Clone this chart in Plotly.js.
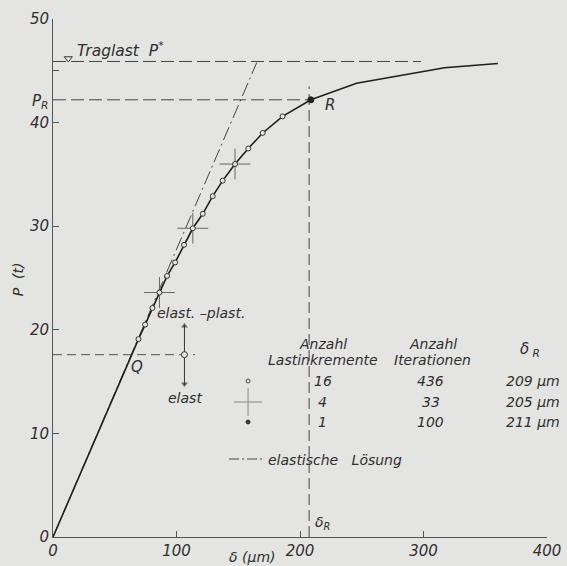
<!DOCTYPE html>
<html>
<head>
<meta charset="utf-8">
<script src="https://cdn.plot.ly/plotly-3.0.1.min.js"></script>
<style>
  html, body { margin: 0; padding: 0; background: #e4e4e2; }
  #chart { width: 567px; height: 566px; }
</style>
</head>
<body>
<div id="chart"></div>
<script>
// ---- data ----
// load-displacement curve (delta in µm, P in t)
const delta = [0, 63.3, 69.2, 74.6, 80.5, 86.2, 92.4, 98.9, 106.1, 113.2, 121.3, 129.3, 137.4, 147.4, 158.1, 169.8, 185.9, 208.8, 245.8, 317.1, 360.2];
const P     = [0, 17.6, 19.1, 20.5, 22.1, 23.6, 25.2, 26.5, 28.2, 29.8, 31.2, 32.9, 34.4, 36.0, 37.5, 39.0, 40.6, 42.2, 43.8, 45.3, 45.7];
// 16 load increments (open circles)
const delta16 = [69.2, 74.6, 80.5, 86.2, 92.4, 98.9, 106.1, 113.2, 121.3, 129.3, 137.4, 147.4, 158.1, 169.8, 185.9, 208.8];
const P16     = [19.1, 20.5, 22.1, 23.6, 25.2, 26.5, 28.2, 29.8, 31.2, 32.9, 34.4, 36.0, 37.5, 39.0, 40.6, 42.2];
// 4 load increments (crosses)
const delta4 = [86.2, 113.2, 147.4];
const P4     = [23.6, 29.8, 36.0];
// 1 load increment (dot)
const delta1 = [208.8];
const P1     = [42.2];
// elastic solution
const deltaEl = [0, 165];
const PEl     = [0, 45.8];
// characteristic values
const PStar = 45.9;   // Traglast
const PR = 42.2;
const deltaR = 207.4;
const PQ = 17.6;
// table
const tableInc = ['16', '4', '1'];
const tableIter = ['436', '33', '100'];
const tableDeltaR = ['209 μm', '205 μm', '211 μm'];
// axis ticks
const xTicks = [0, 100, 200, 300, 400];
const yTicks = [0, 10, 20, 30, 40, 50];
const yMinorTicks = [45];

// ---- layout helpers ----
const W = 567, H = 566;
const Lpx = 52.7, Rpx = 547.3, Tpx = 19, Bpx = 537;
const XR = [0, 400], YR = [0, 50];
const dx = px => XR[0] + (px - Lpx) / (Rpx - Lpx) * (XR[1] - XR[0]);
const dy = py => YR[0] + (Bpx - py) / (Bpx - Tpx) * (YR[1] - YR[0]);
const ax = px => (px - Lpx) / (Rpx - Lpx);
const ay = py => (Bpx - py) / (Bpx - Tpx);

const ink = '#2f2f2f';
const bg = '#e4e4e2';
const fontBase = {family: 'DejaVu Sans', size: 14, color: ink, style: 'italic'};
const fontTick = Object.assign({}, fontBase, {size: 15});

const traces = [
  // dashed reference lines
  {x: [0, 298], y: [PStar, PStar], mode: 'lines', line: {color: '#444', width: 1, dash: '13px,5px'}, hoverinfo: 'skip'},
  {x: [0, delta1[0]], y: [PR, PR], mode: 'lines', line: {color: '#444', width: 1, dash: '13px,5px'}, hoverinfo: 'skip'},
  {x: [deltaR, deltaR], y: [0, 43.5], mode: 'lines', line: {color: '#444', width: 1, dash: '11px,5px'}, hoverinfo: 'skip'},
  {x: [0, 115], y: [PQ, PQ], mode: 'lines', line: {color: '#555', width: 1, dash: '9px,5px'}, hoverinfo: 'skip'},
  // elastic solution
  {x: deltaEl, y: PEl, mode: 'lines', line: {color: '#444', width: 1, dash: '14px,4px,2px,4px'}, hoverinfo: 'skip'},
  // main curve
  {x: delta, y: P, mode: 'lines', line: {color: '#1e1e1e', width: 1.6}, hoverinfo: 'skip'},
  // 4 increments
  {x: delta4, y: P4, mode: 'markers', cliponaxis: false,
   marker: {symbol: 'cross-thin-open', size: 22, color: '#666', line: {color: '#666', width: 1}}, hoverinfo: 'skip'},
  // 16 increments
  {x: delta16, y: P16, mode: 'markers', cliponaxis: false,
   marker: {symbol: 'circle', size: 5, color: bg, line: {color: '#333', width: 1}}, hoverinfo: 'skip'},
  // 1 increment
  {x: delta1, y: P1, mode: 'markers', cliponaxis: false,
   marker: {symbol: 'circle', size: 6, color: '#222', line: {color: '#222', width: 1}}, hoverinfo: 'skip'},
  // Traglast marker
  {x: [dx(68)], y: [dy(58.5)], mode: 'markers', cliponaxis: false,
   marker: {symbol: 'triangle-down-open', size: 7, color: '#333', line: {color: '#333', width: 1}}, hoverinfo: 'skip'},
  // double arrow elast / elast.-plast.
  {x: [dx(184.3), dx(184.3)], y: [dy(325), dy(385)], mode: 'lines', cliponaxis: false,
   line: {color: '#333', width: 1}, hoverinfo: 'skip'},
  {x: [dx(184.3), dx(184.3)], y: [dy(326), dy(384)], mode: 'markers', cliponaxis: false,
   marker: {symbol: ['triangle-up', 'triangle-down'], size: [6, 6], color: '#333', line: {width: 0}}, hoverinfo: 'skip'},
  // Q-level marker on arrow
  {x: [dx(184.3)], y: [PQ], mode: 'markers', cliponaxis: false,
   marker: {symbol: 'circle', size: 6, color: bg, line: {color: '#333', width: 1}}, hoverinfo: 'skip'},
  // table symbols
  {x: [dx(248)], y: [dy(381)], mode: 'markers', cliponaxis: false,
   marker: {symbol: 'circle', size: 4, color: bg, line: {color: '#444', width: 1}}, hoverinfo: 'skip'},
  {x: [dx(248)], y: [dy(402)], mode: 'markers', cliponaxis: false,
   marker: {symbol: 'cross-thin-open', size: 20, color: '#888', line: {color: '#888', width: 1}}, hoverinfo: 'skip'},
  {x: [dx(248)], y: [dy(422)], mode: 'markers', cliponaxis: false,
   marker: {symbol: 'circle', size: 4, color: '#333', line: {color: '#333', width: 1}}, hoverinfo: 'skip'},
  // legend dash-dot line
  {x: [dx(229), dx(265)], y: [dy(459), dy(459)], mode: 'lines', cliponaxis: false,
   line: {color: '#444', width: 1, dash: '10px,3px,2px,3px'}, hoverinfo: 'skip'}
];

function txt(text, px, py, xanchor, extra) {
  return Object.assign({text: text, xref: 'paper', yref: 'paper', x: ax(px), y: ay(py),
    xanchor: xanchor || 'center', yanchor: 'middle', showarrow: false, font: fontBase}, extra || {});
}

const annotations = [
  txt('Traglast  P<sup>*</sup>', 75, 49, 'left', {font: Object.assign({}, fontBase, {size: 15.5})}),
  txt('P<sub>R</sub>', 50, 101, 'right', {font: Object.assign({}, fontBase, {size: 15})}),
  txt('R', 330, 105, 'center', {font: Object.assign({}, fontBase, {size: 15})}),
  txt('Q', 137, 367, 'center', {font: Object.assign({}, fontBase, {size: 15})}),
  txt('elast. –plast.', 155, 313, 'left'),
  txt('elast', 166, 398, 'left'),
  txt('δ<sub>R</sub>', 313, 523, 'left'),
  txt('P  (t)', 18, 279, 'center', {textangle: -90}),
  txt('δ (μm)', 252, 557, 'center'),
  // table header
  txt('Anzahl', 323, 344, 'center'),
  txt('Lastinkremente', 323, 360, 'center'),
  txt('Anzahl', 433, 344, 'center'),
  txt('Iterationen', 433, 360, 'center'),
  txt('δ<sub> R</sub>', 530, 350, 'center', {font: Object.assign({}, fontBase, {size: 15})}),
  txt('elastische   Lösung', 266, 460, 'left')
];
const rowsY = [381, 402, 422];
for (let i = 0; i < tableInc.length; i++) {
  annotations.push(txt(tableInc[i], 323, rowsY[i], 'center'));
  annotations.push(txt(tableIter[i], 431, rowsY[i], 'center'));
  annotations.push(txt(tableDeltaR[i], 562, rowsY[i], 'right'));
}

const layout = {
  width: W, height: H,
  margin: {l: Lpx, r: W - Rpx, t: Tpx, b: H - Bpx, pad: 0},
  paper_bgcolor: bg, plot_bgcolor: bg,
  showlegend: false,
  xaxis: {range: XR, showline: true, linecolor: '#555', linewidth: 1, ticks: 'inside', ticklen: 6,
    tickcolor: '#555', tickvals: xTicks, showgrid: false, zeroline: false, fixedrange: true,
    tickfont: fontTick, automargin: false},
  yaxis: {range: YR, showline: true, linecolor: '#555', linewidth: 1, ticks: 'inside', ticklen: 6,
    tickcolor: '#555', tickvals: yTicks, showgrid: false, zeroline: false,
    minor: {tickmode: 'array', tickvals: yMinorTicks, ticks: 'inside', ticklen: 6, tickcolor: '#555', showgrid: false},
    fixedrange: true, tickfont: fontTick, automargin: false},
  annotations: annotations
};

Plotly.newPlot('chart', traces, layout, {displayModeBar: false, staticPlot: true});
</script>
</body>
</html>
